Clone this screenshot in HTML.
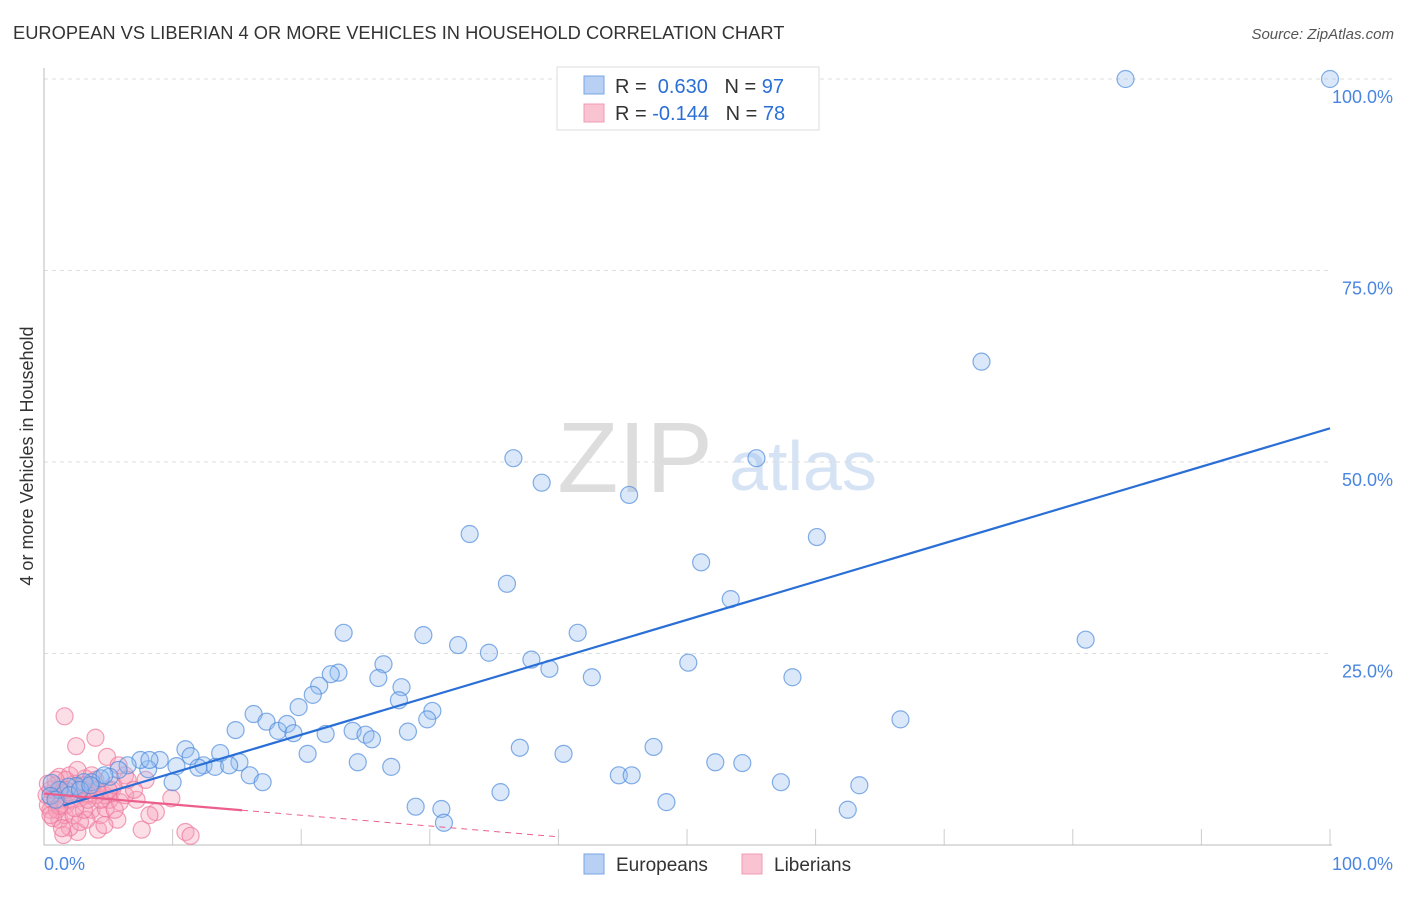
<!DOCTYPE html>
<html><head><meta charset="utf-8"><style>
body{margin:0;background:#fff;font-family:"Liberation Sans",sans-serif;}
svg text{font-family:"Liberation Sans",sans-serif;}
</style></head><body>
<svg id="chart" width="1406" height="892" xmlns="http://www.w3.org/2000/svg">
<text x="13" y="39" font-size="18.3" fill="#333">EUROPEAN VS LIBERIAN 4 OR MORE VEHICLES IN HOUSEHOLD CORRELATION CHART</text>
<text x="1394" y="39" font-size="15" fill="#555" font-style="italic" text-anchor="end">Source: ZipAtlas.com</text>
<text x="33" y="456" font-size="18" fill="#333" text-anchor="middle" transform="rotate(-90 33 456)">4 or more Vehicles in Household</text>
<text x="635" y="492" font-size="100" fill="#ddd" font-family="Liberation Serif" text-anchor="middle">ZIP</text>
<text x="803" y="490" font-size="70" fill="#d5e3f5" text-anchor="middle">atlas</text>
<g id="grid"></g>
<g id="marks"></g>
<g>
<rect x="557" y="67" width="262" height="63" fill="#fff" stroke="#ddd"/>
<rect x="584" y="76" width="20" height="18" fill="#b7d0f4" stroke="#7aa5e6"/>
<rect x="584" y="104" width="20" height="18" fill="#f9c3d2" stroke="#f29ab3"/>
<text x="615" y="93" font-size="20" fill="#333">R = <tspan fill="#2a6fd6">&#160;0.630</tspan>&#160;&#160;&#160;N = <tspan fill="#2a6fd6">97</tspan></text>
<text x="615" y="120" font-size="20" fill="#333">R = <tspan fill="#2a6fd6">-0.144</tspan>&#160;&#160;&#160;N = <tspan fill="#2a6fd6">78</tspan></text>
</g>
<g>
<rect x="584" y="854" width="20" height="20" fill="#b7d0f4" stroke="#7aa5e6"/>
<text x="616" y="871" font-size="19" fill="#333">Europeans</text>
<rect x="742" y="854" width="20" height="20" fill="#f9c3d2" stroke="#f29ab3"/>
<text x="774" y="871" font-size="19" fill="#333">Liberians</text>
</g>
</svg>
<script>
const yTicks=[25,50,75,100];
const yTickLabels=["25.0%","50.0%","75.0%","100.0%"];
const xTickLabels=["0.0%","100.0%"];
const euroX=[84.1,100,72.9,36.5,38.7,55.4,45.5,33.1,60.1,51.1,36.0,53.4,23.3,29.5,41.5,32.2,34.6,37.9,39.3,50.1,81.0,42.6,58.2,26.4,26.0,22.9,22.3,21.4,27.8,27.6,20.9,19.8,30.2,29.8,66.6,16.3,14.9,17.3,18.2,18.9,19.4,21.9,24.0,25.0,25.5,28.3,37.0,47.4,40.4,20.5,11.0,11.4,13.7,15.2,12.4,13.3,12.0,14.4,24.4,27.0,52.2,54.3,16.0,17.0,44.7,45.7,57.3,63.4,35.5,28.9,30.9,31.1,48.4,62.5,10.0,9.0,8.1,7.5,6.5,5.8,5.1,4.4,3.7,3.1,2.5,1.9,1.2,0.6,0.5,0.9,2.0,2.8,3.6,4.7,8.2,10.3];
const euroY=[100,100,63.1,50.5,47.3,50.5,45.7,40.6,40.2,36.9,34.1,32.1,27.7,27.4,27.7,26.1,25.1,24.2,23.0,23.8,26.8,21.9,21.9,23.6,21.8,22.5,22.3,20.8,20.6,18.9,19.6,18.0,17.5,16.4,16.4,17.1,15.0,16.1,14.9,15.8,14.6,14.5,14.9,14.4,13.8,14.8,12.7,12.8,11.9,11.9,12.5,11.6,12.0,10.8,10.4,10.2,10.1,10.4,10.8,10.2,10.8,10.7,9.1,8.2,9.1,9.1,8.2,7.8,6.9,5.0,4.7,2.9,5.6,4.6,8.2,11.1,9.9,11.1,10.4,9.8,8.9,8.7,8.2,8.2,7.7,7.6,7.2,8.1,6.4,5.9,6.5,7.2,7.8,9.1,11.1,10.3];
const libX=[1.6,2.5,4.0,4.9,5.8,0.9,1.2,2.0,3.2,4.0,5.3,6.3,7.2,7.9,8.7,9.9,11.0,11.4,7.6,5.7,4.2,2.6,2.0,1.2,0.5,0.6,0.9,1.4,1.7,2.2,2.8,3.4,3.7,4.4,4.8,5.1,5.9,3.3,1.6,0.5,0.3,1.1,1.9,2.4,3.0,3.6,4.7,5.4,6.5,2.3,1.5,2.8,4.0,1.0,0.7,0.2,1.7,3.1,4.4,4.7,5.5,6.3,7.0,8.2,1.4,2.4,3.4,5.0,0.9,0.3,2.6,3.7,2.0,1.2,0.5,1.7,3.2,4.1];
const libY=[16.8,12.9,14.0,11.5,10.4,7.8,8.9,9.1,8.7,8.5,7.2,9.1,5.9,8.5,4.3,6.1,1.7,1.2,2.0,3.3,2.0,1.7,2.3,3.3,4.6,5.9,6.5,5.9,5.2,5.9,6.1,6.5,4.6,3.9,4.8,5.9,5.6,3.3,3.9,7.2,5.2,7.2,6.9,8.0,7.2,7.4,6.5,7.8,8.5,3.9,1.3,3.0,6.5,4.6,3.5,6.5,8.5,4.6,5.9,2.6,4.6,6.5,7.2,3.9,2.2,4.8,5.9,7.2,8.5,8.0,9.8,9.1,6.5,5.1,3.9,7.2,7.8,7.2];
const NS="http://www.w3.org/2000/svg";
const X0=44,X1=1330,Y0=845,Y1=79;
const sx=v=>X0+(X1-X0)*v/100;
const sy=v=>Y0-(Y0-Y1)*v/100;
function mk(tag,attrs,parent){const e=document.createElementNS(NS,tag);for(const k in attrs)e.setAttribute(k,attrs[k]);parent.appendChild(e);return e;}
const grid=document.getElementById('grid'),marks=document.getElementById('marks');
yTicks.forEach((t,i)=>{
 const l=mk('line',{x1:X0,x2:t===100?1395:X1,y1:sy(t),y2:sy(t),stroke:'#ddd','stroke-dasharray':'4,4'},grid);
 
 
 const tx=mk('text',{x:1393,y:sy(t)+24,'font-size':18,fill:'#4a86e0','text-anchor':'end'},grid);
 tx.textContent=yTickLabels[i];
 
 
});
for(let i=1;i<=10;i++){
 const t=mk('line',{x1:sx(i*10),x2:sx(i*10),y1:Y0-16,y2:Y0,stroke:'#ccc'},grid);
 
 
}
const ax=mk('path',{d:`M${X0} 68V${Y0}H${X1+2}`,fill:'none',stroke:'#bbb'},grid);


const xl0=mk('text',{x:44,y:870,'font-size':18,fill:'#4a86e0'},grid);xl0.textContent=xTickLabels[0];


const xl1=mk('text',{x:1393,y:870,'font-size':18,fill:'#4a86e0','text-anchor':'end'},grid);xl1.textContent=xTickLabels[1];


function reg(xs,ys){const n=xs.length;let mx=0,my=0;for(let i=0;i<n;i++){mx+=xs[i];my+=ys[i];}mx/=n;my/=n;let sxy=0,sxx=0;for(let i=0;i<n;i++){sxy+=(xs[i]-mx)*(ys[i]-my);sxx+=(xs[i]-mx)**2;}const b=sxy/sxx;return[my-b*mx,b];}
libX.forEach((x,i)=>{
 const c=mk('circle',{cx:sx(x),cy:sy(libY[i]),r:8.5,fill:'rgba(246,160,185,0.35)',stroke:'rgba(238,120,155,0.7)','stroke-width':1.2},marks);
 
 
});
euroX.forEach((x,i)=>{
 const c=mk('circle',{cx:sx(x),cy:sy(euroY[i]),r:8.5,fill:'rgba(150,190,240,0.35)',stroke:'rgba(80,140,220,0.7)','stroke-width':1.2},marks);
 
 
});
const [ea,eb]=reg(euroX,euroY);
const el=mk('line',{x1:sx(1.5),y1:sy(ea+eb*1.5),x2:sx(100),y2:sy(ea+eb*100),stroke:'#2a6fd6','stroke-width':2.2},marks);


const [la,lb]=reg(libX,libY);
const xmax=Math.max(...libX)+4;
const l1=mk('line',{x1:sx(0),y1:sy(la),x2:sx(xmax),y2:sy(la+lb*xmax),stroke:'#ec5f8c','stroke-width':2.2},marks);


const xz=lb<0?Math.min(-la/lb,40):40;
const l2=mk('line',{x1:sx(xmax),y1:sy(la+lb*xmax),x2:sx(xz),y2:sy(la+lb*xz),stroke:'#ec5f8c','stroke-width':1,'stroke-dasharray':'6,5'},marks);


</script>
</body></html>
